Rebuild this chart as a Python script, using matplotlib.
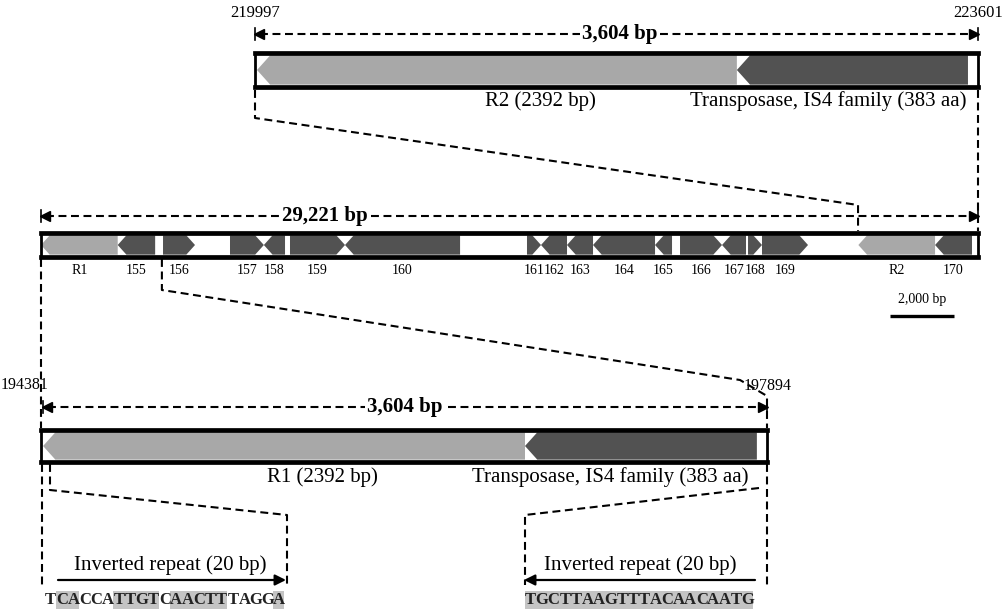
import matplotlib.pyplot as plt
from matplotlib.patches import Polygon, Rectangle

plt.rcParams['font.family'] = ['Liberation Serif', 'DejaVu Serif']

W, H = 1006, 611
LIGHT = '#a8a8a8'
DARK = '#525252'

# ---- data -------------------------------------------------------------
# whole 29,221 bp region
main_span = [0, 29221]
main_names = ['R1', '155', '156', '157', '158', '159', '160', '161', '162', '163',
              '164', '165', '166', '167', '168', '169', 'R2', '170']
main_start = [0, 2392, 3805, 5894, 6950, 7765, 9481, 15156, 15593, 16404,
              17215, 19149, 19928, 21238, 22049, 22485, 25490, 27882]
main_end = [2392, 3560, 4803, 6950, 7610, 9481, 13069, 15593, 16404, 17215,
            19149, 19679, 21238, 21986, 22485, 23920, 27882, 29034]
main_strand = [-1, -1, 1, 1, -1, 1, -1, 1, -1, -1, -1, -1, 1, -1, 1, 1, -1, -1]
main_light = ['R1', 'R2']
r1_zoom_end = 3770      # where the lower detail joins the main map
r2_zoom_start = 25480   # where the upper detail joins the main map

# upper detail (R2 + transposase)
top_span = [219997, 223601]
top_labels = ['R2 (2392 bp)', 'Transposase, IS4 family (383 aa)']
top_start = [220007, 222399]
top_end = [222399, 223551]

# lower detail (R1 + transposase)
bot_span = [194381, 197894]
bot_labels = ['R1 (2392 bp)', 'Transposase, IS4 family (383 aa)']
bot_start = [194391, 196723]
bot_end = [196723, 197845]

# inverted repeats
ir_left_seq = 'TCACCATTGTCAACTTTAGGA'
ir_left_shade = [0, 1, 1, 0, 0, 0, 1, 1, 1, 1, 0, 1, 1, 1, 1, 1, 0, 0, 0, 0, 1]
ir_right_seq = 'TGCTTAAGTTTACAACAATG'
ir_right_shade = [1, 1, 1, 1, 1, 1, 1, 1, 1, 1, 1, 1, 1, 1, 1, 1, 1, 1, 1, 1]

fig = plt.figure(figsize=(W / 100, H / 100), dpi=100)
ov = fig.add_axes([0, 0, 1, 1])
ov.set_xlim(0, W)
ov.set_ylim(H, 0)
ov.axis('off')

BORDER = 3.4  # pt, top/bottom frame of each map


def track(x0, x1, y0, y1, span):
    ax = fig.add_axes([x0 / W, 1 - y1 / H, (x1 - x0) / W, (y1 - y0) / H])
    ax.set_xlim(span)
    ax.set_ylim(0, 1)
    ax.set_xticks([])
    ax.set_yticks([])
    ax.spines['top'].set_linewidth(BORDER)
    ax.spines['bottom'].set_linewidth(BORDER)
    ax.spines['left'].set_linewidth(2)
    ax.spines['right'].set_linewidth(2)
    return ax


def px(ax, bp):
    return ax.transData.transform((bp, 0))[0]


def gene(ax, a, b, strand, color):
    pad = (BORDER * 100 / 72 / 2) / ax.bbox.height
    x0, x1 = ax.get_xlim()
    inner = ax.bbox.height * (1 - 2 * pad)
    h = 0.45 * inner * (x1 - x0) / ax.bbox.width
    lo, hi = pad, 1 - pad
    if strand > 0:
        pts = [(a, lo), (b - h, lo), (b, 0.5), (b - h, hi), (a, hi)]
    else:
        pts = [(a, 0.5), (a + h, lo), (b, lo), (b, hi), (a + h, hi)]
    ax.add_patch(Polygon(pts, closed=True, fc=color, ec='none'))


def dashed(xs, ys):
    ov.plot(xs, ys, color='k', lw=1.5, dashes=(3.8, 2.2))


def dimension(xa, xb, y, label, xt):
    dashed([xa + 5, xb - 5], [y, y])
    ov.plot([xa + 4], [y], marker='<', ms=7, color='k')
    ov.plot([xb - 4], [y], marker='>', ms=7, color='k')
    ov.plot([xa, xa], [y - 6, y + 6], color='k', lw=1.2)
    ov.plot([xb, xb], [y - 6, y + 6], color='k', lw=1.2)
    ov.text(xt, y, label, ha='center', va='center', fontsize=15, fontweight='bold',
            bbox=dict(fc='white', ec='none', pad=1.5))


# ---- tracks -------------------------------------------------------------
top = track(255, 978, 53, 87, top_span)
for a, b, c in zip(top_start, top_end, [LIGHT, DARK]):
    gene(top, a, b, -1, c)

main = track(41, 978, 233, 257, main_span)
for n, a, b, s in zip(main_names, main_start, main_end, main_strand):
    gene(main, a, b, s, LIGHT if n in main_light else DARK)

bot = track(41, 767, 430, 462, bot_span)
for a, b, c in zip(bot_start, bot_end, [LIGHT, DARK]):
    gene(bot, a, b, -1, c)

# ---- upper detail annotation -------------------------------------------
tx0, tx1 = px(top, top_span[0]), px(top, top_span[1])
ov.text(tx0, 13, str(top_span[0]), ha='center', va='center', fontsize=12)
ov.text(tx1, 13, str(top_span[1]), ha='center', va='center', fontsize=12)
dimension(tx0, tx1, 34, '3,604 bp', 620)
ov.text(540, 101, top_labels[0], ha='center', va='center', fontsize=15)
ov.text(828, 101, top_labels[1], ha='center', va='center', fontsize=15)

# connectors upper detail -> main map
mz = px(main, r2_zoom_start)
dashed([tx0, tx0, mz, mz], [90, 118, 205, 231])
dashed([tx1, tx1], [90, 231])

# ---- main map annotation -------------------------------------------------
mx0, mx1 = px(main, main_span[0]), px(main, main_span[1])
dimension(mx0, mx1, 216, '29,221 bp', 325)
for n, a, b in zip(main_names, main_start, main_end):
    ov.text(px(main, (a + b) / 2), 270, n, ha='center', va='center', fontsize=10)

# scale bar 2,000 bp
sb0 = 890
sb1 = sb0 + px(main, 2000) - px(main, 0)
ov.plot([sb0, sb1], [316, 316], color='k', lw=2.4, solid_capstyle='butt')
ov.text((sb0 + sb1) / 2, 299, '2,000 bp', ha='center', va='center', fontsize=10)

# connectors main map -> lower detail
bx0, bx1 = px(bot, bot_span[0]), px(bot, bot_span[1])
dashed([mx0, bx0], [259, 428])
mr = px(main, r1_zoom_end)
dashed([mr, mr, 740, bx1, bx1], [259, 290, 380, 396, 428])

# ---- lower detail annotation -------------------------------------------
ov.text(0.5, 385, str(bot_span[0]), ha='left', va='center', fontsize=11.5)
ov.text(768, 386, str(bot_span[1]), ha='center', va='center', fontsize=11.5)
dimension(bx0 + 2, bx1, 407, '3,604 bp', 405)
ov.text(322, 477, bot_labels[0], ha='center', va='center', fontsize=15)
ov.text(610, 477, bot_labels[1], ha='center', va='center', fontsize=15)

# connectors lower detail -> inverted repeats
dashed([bx0 + 1, bx0 + 1], [464, 585])
dashed([bx0 + 9, bx0 + 9, 287, 287], [464, 490, 515, 585])
dashed([bx1, bx1], [464, 585])
dashed([bx1 - 8, 525, 525], [488, 515, 585])

# ---- inverted repeats ----------------------------------------------------
cw = 11.4
for seq, shade, x0, a0, a1, tx in [(ir_left_seq, ir_left_shade, 45, 58, 286, 170),
                                    (ir_right_seq, ir_right_shade, 525, 755, 524, 640)]:
    ov.text(tx, 565, 'Inverted repeat (20 bp)', ha='center', va='center', fontsize=15)
    ov.annotate('', xy=(a1, 580), xytext=(a0, 580),
                arrowprops=dict(arrowstyle='-|>', lw=1.6, color='k', mutation_scale=16,
                                shrinkA=0, shrinkB=0))
    for i, (ch, sh) in enumerate(zip(seq, shade)):
        if sh:
            ov.add_patch(Rectangle((x0 + i * cw, 591), cw, 18, fc='#c4c4c4', ec='none'))
        ov.text(x0 + (i + 0.5) * cw, 600, ch, ha='center', va='center',
                fontsize=12, fontweight='bold', color='#222222')

fig.savefig('out.png', dpi=100)
